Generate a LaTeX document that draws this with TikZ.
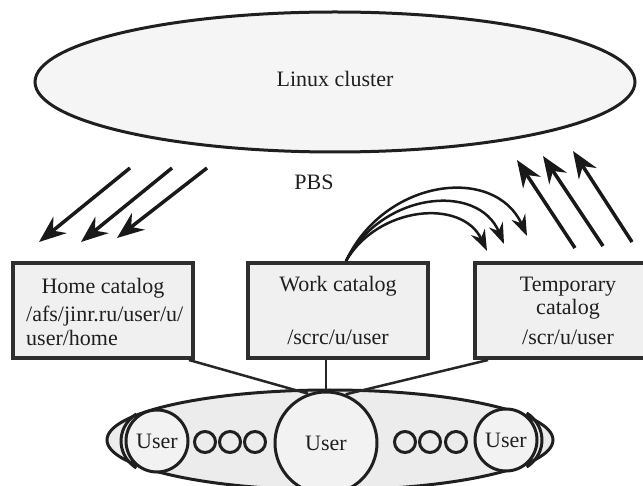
\documentclass[tikz,border=0pt]{standalone}
\usepackage{fontspec}
\setmainfont{Liberation Serif}
\usetikzlibrary{shapes.geometric,arrows.meta}
\begin{document}
\begin{tikzpicture}[x=1pt,y=-1pt,
 lbl/.style={font=\fontsize{22}{26}\selectfont, inner sep=0pt, text=black!88},
 catbox/.style={draw=black!82, line width=4pt, fill=gray!12, inner sep=0pt, minimum height=95pt},
 ellbox/.style={ellipse, draw=black!88, line width=3pt, inner sep=0pt},
 usrnode/.style={circle, draw=black!88, line width=3pt, fill=gray!10, inner sep=0pt, font=\fontsize{22}{26}\selectfont, text=black!88},
 smallring/.style={circle, draw=black!88, line width=3pt, inner sep=0pt, minimum size=21pt},
 bigarrow/.style={line width=3.5pt, draw=black!90, -{Stealth[length=27pt,width=21pt,inset=9pt]}},
 curvarrow/.style={line width=2.5pt, draw=black!90, -{Stealth[length=21pt,width=15pt,inset=7pt]}},
 linkline/.style={line width=2.5pt, draw=black!85}]
\useasboundingbox (0,0) rectangle (643,486);
\clip (0,0) rectangle (643,486);
\fill[white] (0,0) rectangle (643,486);

% top ellipse
\node[ellbox, fill=gray!8, minimum width=600pt, minimum height=140pt] (cluster) at (335,82) {};
\node[lbl, anchor=base] (clustertxt) at (335,87) {Linux cluster};
\node[lbl, anchor=base] (pbs) at (314,190) {PBS};

% catalog boxes
\node[catbox, minimum width=180pt] (home) at (103,310.5) {};
\node[catbox, minimum width=180pt] (work) at (338,310.5) {};
\node[catbox, minimum width=186pt] (temp) at (568,310.5) {};

\node[lbl, anchor=base] (h1) at (103,294) {Home catalog};
\node[lbl, anchor=base west] (h2) at (26,322) {/afs/jinr.ru/user/u/};
\node[lbl, anchor=base west] (h3) at (26,346) {user/home};
\node[lbl, anchor=base] (w1) at (338,292) {Work catalog};
\node[lbl, anchor=base] (w2) at (338,345) {/scrc/u/user};
\node[lbl, anchor=base] (t1) at (568,292) {Temporary};
\node[lbl, anchor=base] (t2) at (568,315) {catalog};
\node[lbl, anchor=base] (t3) at (568,345) {/scr/u/user};

% bottom users ellipse
\node[ellbox, fill=gray!15, minimum width=446pt, minimum height=100pt] (users) at (330,440) {};
\draw[line width=3pt, draw=black!88] (157,441) ++(125:36pt and 33pt) arc[start angle=125, end angle=235, x radius=36pt, y radius=33pt];
\draw[line width=3pt, draw=black!88] (506,440) ++(55:36pt and 33pt) arc[start angle=55, end angle=-55, x radius=36pt, y radius=33pt];
\node[usrnode, minimum size=62pt] (uleft) at (157,441) {User};
\node[usrnode, minimum size=102pt] (ucenter) at (326,443) {User};
\node[usrnode, minimum size=62pt] (uright) at (506,440) {User};
\node[smallring] (d1) at (205,442) {};
\node[smallring] (d2) at (230,442) {};
\node[smallring] (d3) at (255,442) {};
\node[smallring] (d4) at (405,442) {};
\node[smallring] (d5) at (430,442) {};
\node[smallring] (d6) at (456,442) {};

% links boxes -> users
\draw[linkline] ([xshift=-6pt]home.south east) -- (ucenter.110);
\draw[linkline] ([xshift=15pt]temp.south west) -- (ucenter.68);
\draw[linkline] (ucenter.north) -- (ucenter.north |- work.south);

% down arrows (cluster -> home)
\coordinate (a1s) at (130,168); \coordinate (a1e) at (39,242);
\coordinate (a2s) at (172,168); \coordinate (a2e) at (81,242);
\coordinate (a3s) at (207,168); \coordinate (a3e) at (117,238);
\draw[bigarrow] (a1s) -- (a1e);
\draw[bigarrow] (a2s) -- (a2e);
\draw[bigarrow] (a3s) -- (a3e);

% up arrows (temp -> cluster)
\coordinate (b1s) at (575,248); \coordinate (b1e) at (517,160);
\coordinate (b2s) at (603,246); \coordinate (b2e) at (543,156);
\coordinate (b3s) at (632,242); \coordinate (b3e) at (573,151);
\draw[bigarrow] (b1s) -- (b1e);
\draw[bigarrow] (b2s) -- (b2e);
\draw[bigarrow] (b3s) -- (b3e);

% curved arrows work -> temp
\coordinate (ws) at ([xshift=8pt]work.north);
\coordinate (c1e) at (527,236);
\coordinate (c2e) at (504,244);
\coordinate (c3e) at (487,251);
\draw[curvarrow] (ws) .. controls (385,178) and (495,165) .. (c1e);
\draw[curvarrow] (ws) .. controls (382,192) and (478,182) .. (c2e);
\draw[curvarrow] (ws) .. controls (378,206) and (462,198) .. (c3e);
\end{tikzpicture}
\end{document}
